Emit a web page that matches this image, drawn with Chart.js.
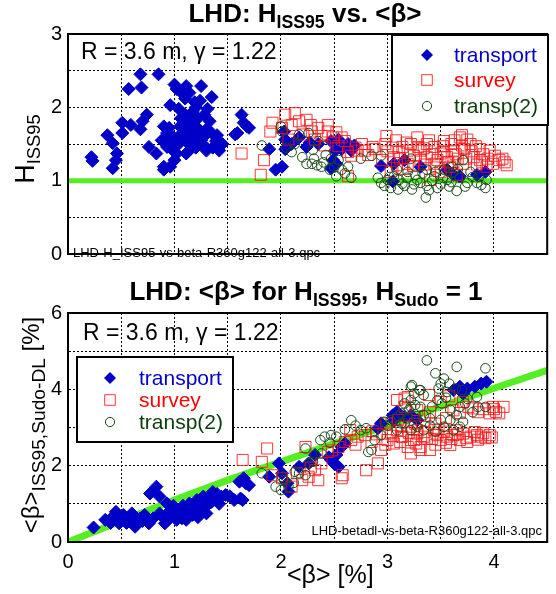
<!DOCTYPE html>
<html>
<head>
<meta charset="utf-8">
<script src="https://cdn.jsdelivr.net/npm/chart.js"></script>
<style>
  body { margin: 0; background: #fff; }
  #wrap { position: relative; width: 556px; height: 594px; font-family: "Liberation Sans", Arial, sans-serif; color: #000; }
  #wrap canvas { position: absolute; left: 0; }
  .lbl { position: absolute; white-space: nowrap; line-height: 1; }
  .sub { font-size: 0.68em; position: relative; top: 0.32em; }
  .title { font-weight: bold; font-size: 26px; transform: translateX(-50%); }
  .rot { transform: translate(-50%, -50%) rotate(-90deg); }
</style>
</head>
<body>
<div id="wrap">
  <canvas id="topChart" width="556" height="272" style="top:0;width:556px;height:272px"></canvas>
  <canvas id="botChart" width="556" height="314" style="top:280px;width:556px;height:314px"></canvas>
  <div class="lbl title" style="left:305px;top:0">LHD: H<span class="sub">ISS95</span> vs. &lt;β&gt;</div>
  <div class="lbl title" style="left:306px;top:278px">LHD: &lt;β&gt; for H<span class="sub">ISS95</span>, H<span class="sub">Sudo</span> = 1</div>
  <div class="lbl rot" style="left:25px;top:149px;font-size:27px">H<span class="sub">ISS95</span></div>
  <div class="lbl rot" style="left:31px;top:425px;font-size:24px">&lt;β&gt;<span class="sub" style="font-size:0.8em">ISS95,Sudo-DL</span> [%]</div>
  <div class="lbl" style="left:287px;top:562px;font-size:25px">&lt;β&gt; [%]</div>
</div>
<script>
// series names and tick labels
const seriesNames = ['transport', 'survey', 'transp(2)'];
const xTickLabels = [0, 1, 2, 3, 4];
const topYTickLabels = [0, 1, 2, 3];
const botYTickLabels = [0, 2, 4, 6];

// top panel: H_ISS95 vs <beta>  ([beta %, H])
const topTransport = [
  [0.22,1.32],[0.23,1.27],[0.37,1.62],[0.42,1.51],[0.46,1.37],[0.45,1.28],[0.42,1.17],[0.51,1.79],[0.51,1.65],[0.59,1.76],
  [0.57,2.25],[0.68,2.45],[0.69,2.27],[0.68,1.70],[0.70,1.81],[0.74,1.90],[0.76,1.46],[0.83,1.37],[0.85,2.45],[0.90,1.15],
  [0.96,1.19],[0.90,1.74],[0.93,1.65],[0.96,2.03],[1.00,2.31],[1.02,2.25],[0.99,1.59],[1.04,1.50],[1.02,1.37],[1.05,1.74],
  [1.10,2.12],[1.11,2.29],[1.14,2.20],[1.13,1.63],[1.16,1.81],[1.17,1.52],[1.21,1.72],[1.19,2.07],[1.25,2.29],[1.24,2.09],
  [1.28,1.90],[1.27,1.59],[1.30,1.41],[1.35,2.14],[1.33,1.81],[1.35,1.65],[1.39,1.54],[1.42,1.41],[1.45,1.50],[1.59,1.65],
  [1.63,1.90],[1.65,1.79],[1.68,1.74],[1.57,1.63],[1.11,1.37],[1.10,1.90],[1.17,1.94],[1.04,1.98],[1.00,1.28],[0.90,1.19],
  [0.93,1.46],[1.08,1.60],[1.20,1.45],[1.15,1.68],[1.25,1.55],[1.06,1.85],[0.97,1.55],[1.22,1.85],[1.30,1.70],[1.13,1.40],
  [0.88,1.55],[0.95,1.72],[1.05,1.62],[1.12,1.52],[1.18,1.60],[1.23,1.70],[1.28,1.48],[1.36,1.45],[1.10,1.75],[0.98,1.42],
  [1.20,2.00],[1.08,2.18],[1.31,1.98],[1.40,1.62],
  [1.70,1.72],[1.89,1.43],[1.95,1.15],[2.01,1.19],[2.03,1.67],[2.04,1.56],[2.04,1.43],[2.10,1.50],[2.17,1.59],[2.24,1.46],
  [2.27,1.52],[2.35,1.50],[2.47,1.54],[2.54,1.56],[2.51,1.41],[2.49,1.28],[2.47,1.17],[2.52,1.23],[2.57,1.43],[2.63,1.50],
  [2.66,1.41],[2.69,1.48],[2.94,1.20],[3.05,0.99],[3.06,1.23],[3.84,1.08],[3.92,1.12],[3.68,1.06],[3.62,1.08],[3.56,1.15],
  [3.31,1.19],[3.16,1.28]
];
const topSurvey = [
  [1.63,1.37],[1.81,1.08],[1.84,1.28],[1.92,1.79],[1.90,1.67],[2.04,1.90],[2.13,1.92],[2.17,1.81],[2.24,1.83],[2.10,1.76],
  [2.01,1.72],[2.07,1.56],[2.21,1.63],[2.29,1.67],[2.32,1.56],[2.38,1.61],[2.44,1.67],[2.49,1.59],[2.57,1.59],[2.60,1.54],
  [2.63,1.39],[2.66,1.34],[2.72,1.41],[2.79,1.41],[2.88,1.43],[2.63,1.06],[2.44,1.76],[2.41,1.48],[2.99,1.61],[3.11,1.39],
  [3.19,1.41],[3.28,1.59],[3.31,1.41],[3.37,1.32],[3.44,1.46],[3.50,1.37],[3.56,1.32],[3.62,1.41],[3.68,1.59],[3.75,1.56],
  [3.78,1.50],[3.87,1.43],[3.96,1.41],[4.05,1.28],[4.12,1.21],[3.99,1.23],[3.87,1.28],[3.71,1.23],[3.59,1.19],[3.44,1.23],
  [3.31,1.28],[3.19,1.23],[3.09,1.21],[3.53,1.54],[3.37,1.50],[3.25,1.34],[3.06,1.32],[3.81,1.32],[3.93,1.19],[3.40,1.01],
  [3.50,1.12],[3.65,1.08],[3.00,1.40],[3.14,1.46],[3.22,1.50],[3.34,1.44],[3.47,1.28],[3.53,1.40],[3.66,1.30],[3.72,1.43],
  [3.84,1.22],[4.08,1.30],[2.95,1.28],[3.03,1.12],[3.15,1.16],[3.42,1.36],[3.62,1.25],[3.90,1.36],[2.54,1.47],[2.35,1.72],
  [2.70,1.45],[2.82,1.35],[3.05,1.45],[3.12,1.30],[3.18,1.52],[3.24,1.20],[3.29,1.46],[3.35,1.22],[3.39,1.55],[3.46,1.18],
  [3.52,1.47],[3.57,1.25],[3.60,1.50],[3.64,1.36],[3.70,1.48],[3.74,1.30],[3.79,1.40],[3.83,1.47],[3.89,1.25],[3.94,1.30],
  [4.01,1.34],[4.10,1.25],[2.98,1.50],[3.08,1.55],[2.28,1.76],[2.52,1.66],[2.76,1.50],[2.86,1.46],[3.70,1.62],[3.63,1.55]
];
const topTransp2 = [
  [1.82,1.48],[2.00,1.74],[2.01,1.67],[2.10,1.39],[2.20,1.32],[2.24,1.23],[2.29,1.23],[2.34,1.21],[2.38,1.19],[2.17,1.63],
  [2.26,1.65],[2.35,1.54],[2.46,1.15],[2.52,1.06],[2.63,1.19],[2.66,1.04],[2.75,1.30],[2.85,1.34],[2.94,1.34],[2.91,1.04],
  [2.94,0.97],[3.00,1.01],[3.03,0.90],[3.11,1.01],[3.16,0.93],[3.22,1.30],[3.23,0.88],[3.28,1.01],[3.31,0.97],[3.36,0.77],
  [3.37,0.93],[3.44,1.06],[3.50,0.95],[3.56,1.01],[3.61,1.19],[3.65,0.86],[3.71,1.28],[3.75,0.97],[3.84,0.97],[3.92,0.90],
  [3.93,1.01],[3.09,1.15],[3.19,1.12],[3.37,1.15],[3.53,1.15],[3.62,1.12],[2.47,1.30],[2.54,1.28],[2.05,1.45],[2.13,1.50],
  [2.30,1.42],[2.42,1.35],[2.57,1.15],[3.06,1.06],[3.14,0.96],[3.26,1.08],[3.42,1.00],[3.47,0.90],[3.58,0.92],[3.68,1.04],
  [3.80,1.05],[3.88,0.94],[2.97,0.93],[3.02,1.05],[3.10,0.88],[3.18,1.04],[3.25,0.95],[3.33,1.10],[3.39,0.87],[3.45,1.12],
  [3.52,1.04],[3.60,0.98],[3.66,1.16],[3.73,0.92],[3.78,1.12],[3.86,1.05],[2.31,1.30],[2.40,1.25],[2.50,1.18],[2.60,1.10]
];
const topRefX = [0, 4.5];
const topRefY = [1, 1];

// bottom panel: <beta>_ISS95,Sudo-DL vs <beta>  ([beta %, beta_DL %])
const botTransport = [
  [0.24,0.38],[0.35,0.58],[0.42,0.66],[0.45,0.79],[0.48,0.49],[0.52,0.71],[0.57,0.58],[0.60,0.75],[0.63,0.40],[0.68,0.62],
  [0.72,0.71],[0.76,0.49],[0.77,1.27],[0.83,1.45],[0.86,0.75],[0.91,0.49],[0.93,1.01],[0.97,0.71],[1.02,0.84],[1.07,0.62],
  [1.11,0.88],[1.14,1.01],[1.17,0.71],[1.21,1.10],[1.24,0.84],[1.27,1.19],[1.31,0.97],[1.36,1.31],[1.39,1.10],[1.44,1.19],
  [1.48,1.23],[1.56,1.10],[1.62,1.14],[1.65,1.67],[1.70,1.49],[1.61,1.58],[1.02,0.58],[0.94,0.58],[1.30,0.75],[1.11,0.58],
  [0.86,1.19],[1.64,1.10],[1.67,1.54],[1.98,2.06],[2.01,1.80],[2.07,1.32],[2.06,1.54],[1.89,1.71],[2.17,1.97],[2.26,2.06],
  [2.32,2.28],[2.47,2.15],[2.54,1.97],[2.52,2.28],[2.57,2.49],[2.60,2.58],[2.94,3.11],[2.91,2.98],[3.05,3.32],[3.09,3.41],
  [3.06,3.19],[3.16,3.28],[3.62,3.98],[3.68,4.07],[3.75,4.02],[3.82,4.07],[3.88,4.15],[3.93,4.20],[3.71,3.89],[3.28,3.19],
  [3.22,3.32],[0.55,0.50],[0.66,0.52],[0.80,0.62],[1.05,0.72],[1.19,0.90],[1.35,1.05],[1.42,1.00],[0.99,0.95],[2.50,2.05],
  [2.45,2.22],[0.40,0.50],[0.62,0.66],[0.70,0.55],[0.88,0.68],[0.95,0.80],[1.08,0.78],[1.16,0.98],[1.26,1.02],[1.33,1.15],
  [1.40,1.26],[1.52,1.20],[1.22,0.65],[1.08,0.95]
];
const botSurvey = [
  [1.64,2.15],[1.82,2.10],[1.87,2.45],[2.23,2.49],[2.35,1.62],[2.57,1.67],[2.58,1.75],[1.92,1.75],[2.01,1.67],[2.10,1.45],
  [2.20,1.62],[2.26,1.71],[2.32,1.88],[2.38,2.06],[2.44,2.36],[2.54,2.49],[2.60,2.62],[2.66,2.67],[2.72,2.76],[2.79,2.80],
  [2.65,2.93],[2.80,1.88],[2.91,2.06],[2.94,2.41],[3.00,2.67],[3.06,2.58],[3.13,2.76],[3.16,3.76],[3.19,2.49],[3.25,2.67],
  [3.31,2.41],[3.34,2.76],[3.28,2.93],[3.22,3.02],[3.13,3.02],[2.99,3.11],[3.09,3.72],[3.19,3.80],[3.16,3.54],[3.28,3.46],
  [3.39,3.85],[3.50,3.67],[3.71,3.67],[3.76,3.54],[3.99,3.54],[4.02,3.41],[4.09,3.54],[4.05,3.37],[3.96,3.37],[3.09,2.93],
  [3.14,2.76],[3.22,2.67],[3.28,2.84],[3.37,2.71],[3.40,2.41],[3.31,2.49],[3.22,2.32],[3.50,2.67],[3.56,2.76],[3.62,2.80],
  [3.71,2.84],[3.78,2.76],[3.84,2.80],[3.88,2.76],[3.96,2.80],[3.65,2.93],[3.53,2.89],[3.44,2.93],[3.68,2.67],[3.59,2.54],
  [2.15,1.80],[2.28,1.95],[2.48,2.40],[2.70,2.55],[2.85,2.62],[2.90,2.82],[3.03,2.87],[3.45,3.10],[3.55,3.25],[3.62,3.45],
  [3.80,3.50],[3.90,3.48],[3.45,2.55],[3.75,2.62],[3.85,2.68],[3.92,2.72],[3.35,3.30],[3.58,3.82],[3.47,2.80],[3.05,2.78],
  [3.12,2.62],[3.20,2.86],[3.27,2.58],[3.35,2.88],[3.42,2.70],[3.48,2.95],[3.55,2.60],[3.60,2.70],[3.66,2.82],[3.74,2.72],
  [3.82,2.88],[3.90,2.85],[3.98,2.74],[3.10,3.20],[3.26,3.10],[3.40,3.40],[3.68,3.38],[3.85,3.40],[4.00,3.48],[2.98,2.55],
  [2.86,2.90]
];
const botTransp2 = [
  [1.82,1.80],[2.01,1.71],[1.95,1.45],[2.07,1.45],[2.17,1.80],[2.23,1.75],[2.32,2.28],[2.38,2.32],[2.23,2.45],[2.37,2.67],
  [2.41,2.76],[2.47,2.80],[2.52,2.76],[2.66,3.19],[2.75,2.93],[2.85,2.41],[2.88,2.67],[2.94,2.80],[2.97,3.15],[3.03,3.19],
  [3.09,2.93],[3.13,3.11],[3.19,3.24],[3.22,4.07],[3.25,3.89],[3.30,3.98],[3.16,3.63],[3.22,3.54],[3.31,3.54],[3.37,4.76],
  [3.65,4.59],[3.92,4.55],[3.45,4.42],[3.53,4.28],[3.50,4.15],[3.58,4.15],[3.48,4.02],[3.56,3.93],[3.64,4.02],[3.70,3.98],
  [3.23,4.11],[3.31,3.98],[3.34,3.85],[3.22,3.72],[3.26,3.59],[3.47,3.72],[3.51,3.63],[3.59,3.46],[3.68,3.54],[3.73,3.63],
  [3.84,3.80],[3.92,3.54],[3.85,3.54],[3.65,3.32],[3.59,3.19],[3.71,3.15],[3.53,3.02],[3.45,2.89],[3.34,2.93],[3.28,3.02],
  [3.22,2.93],[3.16,3.11],[3.13,3.37],[3.20,3.46],[3.34,3.32],[3.40,3.24],[3.62,2.93],[3.68,3.02],[2.00,1.36],[2.03,1.62],
  [2.13,1.84],[2.26,2.06],[2.12,1.55],[2.82,2.36],[2.60,2.95],[2.70,3.05],[2.80,2.98],[3.00,3.05],[3.10,3.30],[3.27,3.30],
  [3.42,3.55],[3.55,3.78],[3.75,3.75],[3.80,3.40],[3.50,3.20],[3.40,3.05],[2.46,2.60],[2.30,2.10]
];
const botRefX = [0, 0.5, 1, 1.5, 2, 2.5, 3, 3.5, 4, 4.5];
const botRefY = [0, 0.55, 1.1, 1.62, 2.1, 2.58, 3.05, 3.55, 4.03, 4.5];

const FONT = '"Liberation Sans", Arial, sans-serif';
const markerColors = ['#0000c8', 'rgba(255,20,20,0.85)', '#1a4a1a'];
const textColors = ['#0000cc', '#ff0000', '#0b3d0b'];

function toPts(arr) {
    return arr.map(p => ({ x: p[0], y: p[1] }));
}

function makeDatasets(tr, sv, t2, refX, refY, refWidth) {
    return [
        { label: seriesNames[2], data: toPts(t2), pointStyle: 'circle', pointRadius: 4.8,
          backgroundColor: 'rgba(0,0,0,0)', borderColor: markerColors[2], borderWidth: 1, order: 0 },
        { label: seriesNames[1], data: toPts(sv), pointStyle: 'rect', pointRadius: 7.8,
          backgroundColor: 'rgba(0,0,0,0)', borderColor: markerColors[1], borderWidth: 1, order: 1 },
        { label: seriesNames[0], data: toPts(tr), pointStyle: 'rectRot', pointRadius: 6.5,
          backgroundColor: markerColors[0], borderColor: markerColors[0], borderWidth: 1, order: 2 },
        { label: 'ref', data: refX.map((x, i) => ({ x: x, y: refY[i] })), showLine: true, pointRadius: 0,
          borderColor: '#55ee22', borderWidth: refWidth, order: 3 }
    ];
}

function makeScales(yMax, yStep, yLabels, showX, xHeight) {
    const gridOpts = { color: '#000', lineWidth: 1, drawTicks: false };
    const borderOpts = { display: true, color: '#000', width: 2, dash: [2, 2] };
    return {
        x: {
            type: 'linear', min: 0, max: 4.5,
            grid: gridOpts, border: borderOpts,
            ticks: {
                display: showX, stepSize: 0.5, padding: 8, color: '#000',
                font: { family: FONT, size: 20 },
                callback: v => xTickLabels.includes(v) ? String(v) : ''
            },
            afterFit: s => { s.height = xHeight; }
        },
        y: {
            type: 'linear', min: 0, max: yMax,
            grid: gridOpts, border: borderOpts,
            ticks: {
                stepSize: yStep, padding: 6, color: '#000',
                font: { family: FONT, size: 20 },
                callback: v => yLabels.includes(v) ? String(v) : ''
            },
            afterFit: s => { s.width = 68; }
        }
    };
}

function drawMarker(ctx, i, x, y) {
    ctx.save();
    ctx.lineWidth = 1;
    ctx.beginPath();
    if (i === 0) {
        ctx.fillStyle = markerColors[0];
        ctx.moveTo(x - 6, y); ctx.lineTo(x, y - 6); ctx.lineTo(x + 6, y); ctx.lineTo(x, y + 6);
        ctx.closePath();
        ctx.fill();
    } else if (i === 1) {
        ctx.strokeStyle = markerColors[1];
        ctx.rect(x - 5.3, y - 5.3, 10.6, 10.6);
        ctx.stroke();
    } else {
        ctx.strokeStyle = markerColors[2];
        ctx.arc(x, y, 4.6, 0, Math.PI * 2);
        ctx.stroke();
    }
    ctx.restore();
}

// box, legend, notes
const panelDecor = {
    id: 'panelDecor',
    afterDraw(chart, args, opts) {
        const ctx = chart.ctx;
        const a = chart.chartArea;
        ctx.save();
        ctx.strokeStyle = '#000';
        ctx.lineWidth = 2;
        ctx.strokeRect(a.left, a.top, a.right - a.left, a.bottom - a.top);

        const lg = opts.legend;
        ctx.fillStyle = '#fff';
        ctx.fillRect(lg.x, lg.y, lg.w, lg.h);
        ctx.strokeRect(lg.x, lg.y, lg.w, lg.h);
        ctx.font = '21px ' + FONT;
        ctx.textBaseline = 'middle';
        seriesNames.forEach((name, i) => {
            drawMarker(ctx, i, lg.markX, lg.rows[i]);
            ctx.fillStyle = textColors[i];
            ctx.fillText(name, lg.textX, lg.rows[i] + 1);
        });

        ctx.textBaseline = 'alphabetic';
        ctx.fillStyle = '#000';
        ctx.font = '23px ' + FONT;
        ctx.textAlign = 'left';
        ctx.fillText('R = 3.6 m, γ = 1.22', opts.note.x, opts.note.y);

        ctx.font = '13px ' + FONT;
        ctx.textAlign = opts.file.align;
        ctx.fillText(opts.file.text, opts.file.x, opts.file.y);
        ctx.restore();
    }
};

Chart.defaults.font.family = FONT;

new Chart(document.getElementById('topChart'), {
    type: 'scatter',
    data: { datasets: makeDatasets(topTransport, topSurvey, topTransp2, topRefX, topRefY, 5) },
    options: {
        responsive: false, animation: false, devicePixelRatio: 1,
        layout: { padding: { top: 34, right: 5, bottom: 0, left: 0 } },
        scales: makeScales(3, 0.5, topYTickLabels, false, 8),
        plugins: {
            legend: { display: false }, tooltip: { enabled: false },
            panelDecor: {
                legend: { x: 392, y: 35, w: 156, h: 90, markX: 427, textX: 454, rows: [55, 80, 106] },
                note: { x: 81, y: 59 },
                file: { text: 'LHD-H_ISS95-vs-beta-R360g122-all-3.qpc', x: 73, y: 257, align: 'left' }
            }
        }
    },
    plugins: [panelDecor]
});

new Chart(document.getElementById('botChart'), {
    type: 'scatter',
    data: { datasets: makeDatasets(botTransport, botSurvey, botTransp2, botRefX, botRefY, 7) },
    options: {
        responsive: false, animation: false, devicePixelRatio: 1,
        layout: { padding: { top: 33, right: 5, bottom: 0, left: 0 } },
        scales: makeScales(6, 1, botYTickLabels, true, 52),
        plugins: {
            legend: { display: false }, tooltip: { enabled: false },
            panelDecor: {
                legend: { x: 77, y: 77, w: 156, h: 85, markX: 110, textX: 139, rows: [98, 120, 142] },
                note: { x: 83, y: 60 },
                file: { text: 'LHD-betadl-vs-beta-R360g122-all-3.qpc', x: 542, y: 255, align: 'right' }
            }
        }
    },
    plugins: [panelDecor]
});
</script>
</body>
</html>
